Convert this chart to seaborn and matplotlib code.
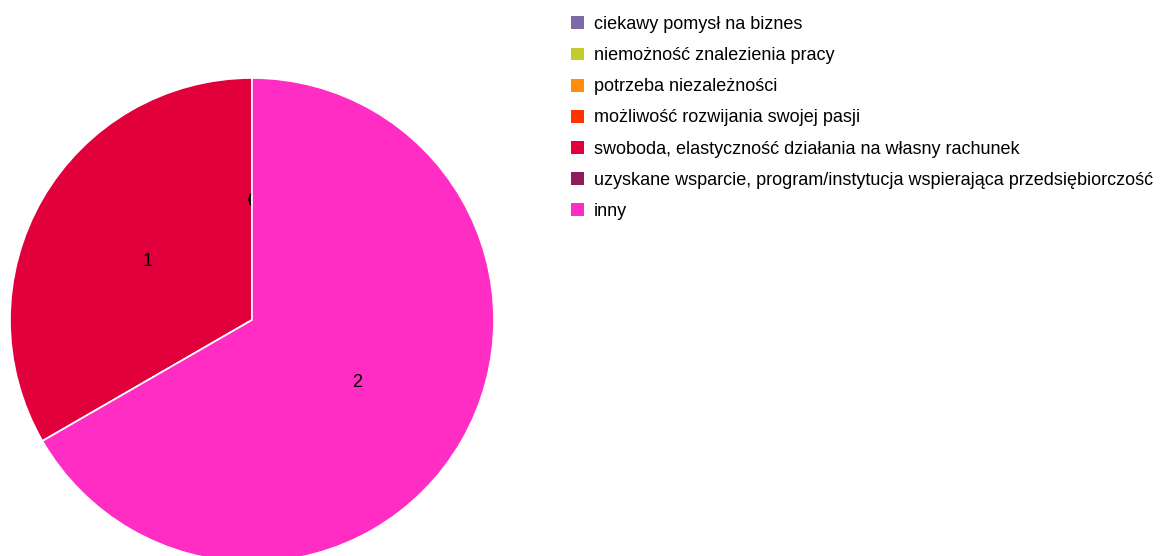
import matplotlib
matplotlib.use("Agg")
import matplotlib.pyplot as plt
from matplotlib.patches import Patch
import seaborn as sns

# DATA
categories = [
    "ciekawy pomysł na biznes",
    "niemożność znalezienia pracy",
    "potrzeba niezależności",
    "możliwość rozwijania swojej pasji",
    "swoboda, elastyczność działania na własny rachunek",
    "uzyskane wsparcie, program/instytucja wspierająca przedsiębiorczość",
    "inny",
]
values = [0, 0, 0, 0, 1, 0, 2]
colors = ["#7f6aa8", "#c3cc2f", "#ff8c0a", "#ff3300", "#e2003c", "#8e1b5c", "#ff2dc3"]

sns.set_theme(style="white")
plt.rcParams["font.family"] = ["Liberation Sans", "DejaVu Sans"]

fig = plt.figure(figsize=(11.63, 5.56), dpi=100)
W, H = 1163, 556
# pie centre ~ (252, 320) px, radius ~ 242 px
ax = fig.add_axes([10 / W, (H - 320 - 242) / H, 484 / W, 484 / H])

wedges, texts = ax.pie(
    values,
    colors=colors,
    labels=[str(v) for v in values],
    labeldistance=0.5,
    startangle=90,
    counterclock=True,
    wedgeprops=dict(edgecolor="white", linewidth=1.2),
    textprops=dict(fontsize=13, color="black"),
)
ax.set_xlim(-1, 1)
ax.set_ylim(-1, 1)
ax.set_aspect("equal")
ax.axis("off")

# zero labels sit under the bigger slices, like in the original
for w, t, v in zip(wedges, texts, values):
    t.set_ha("center")
    t.set_va("center_baseline")
    if v == 0:
        t.set_zorder(1.5)
    else:
        t.set_zorder(5)
wedges[-1].set_zorder(2)  # "inny" covers the stacked zero labels
texts[5].set_zorder(0.5)  # hidden below the red slice

handles = [Patch(facecolor=c, edgecolor="none") for c in colors]
leg = fig.legend(
    handles, categories,
    loc="upper left",
    bbox_to_anchor=(564 / W, 1 - 9 / H),
    frameon=False,
    fontsize=13,
    handlelength=0.72,
    handleheight=0.72,
    handletextpad=0.55,
    labelspacing=0.78,
    borderaxespad=0,
)
for t in leg.get_texts():
    t.set_color("black")

fig.savefig("out.png", dpi=100, facecolor="white")
